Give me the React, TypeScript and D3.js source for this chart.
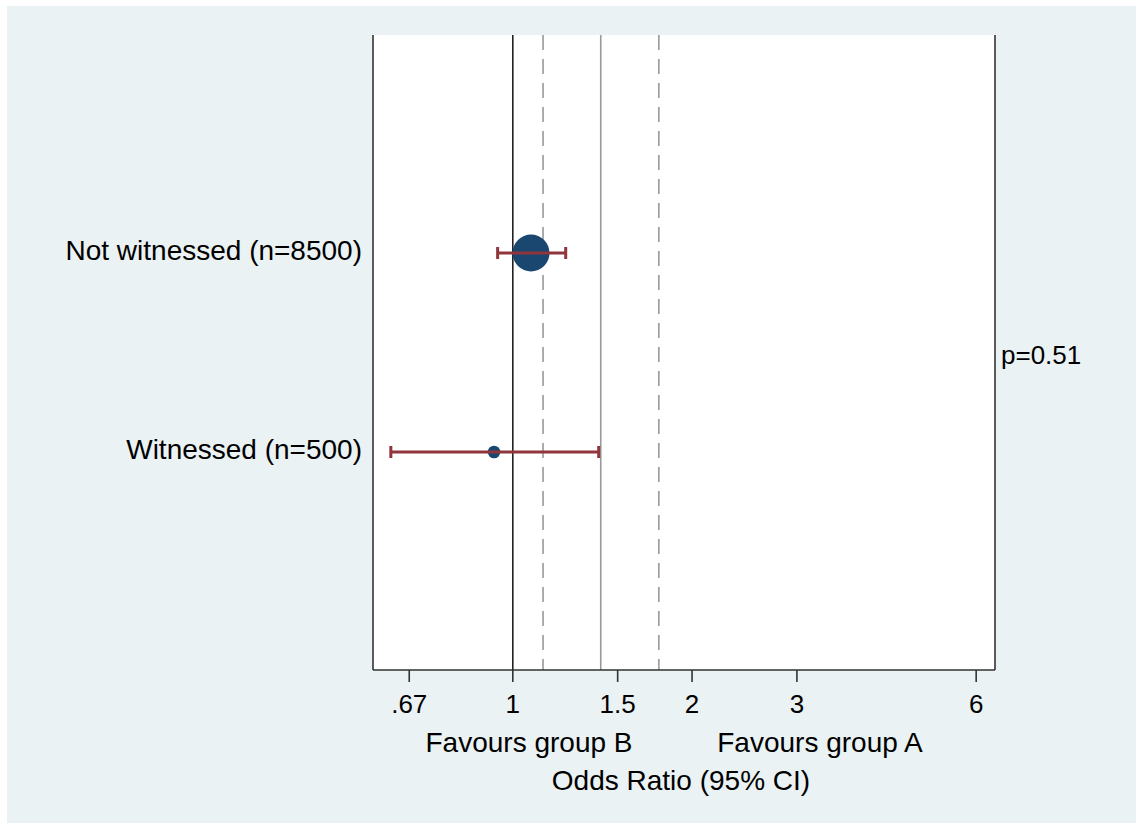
import React from "react";
import * as d3 from "d3";

// forest plot: odds ratios by subgroup
const groups = ["Not witnessed (n=8500)", "Witnessed (n=500)"];
const oddsRatio = [1.073, 0.93];
const ciLower = [0.943, 0.624];
const ciUpper = [1.227, 1.394];
const weights = [89.6, 10.4];

const tickValues = [0.67, 1, 1.5, 2, 3, 6];
const tickLabels = [".67", "1", "1.5", "2", "3", "6"];

const overallOR = 1.405;
const overallCI = [1.124, 1.759];
const pText = "p=0.51";

const W = 1136;
const H = 823;
const plot = { left: 373, right: 995, top: 35, bottom: 670 };
const bg = "#EAF2F3";
const navy = "#1A476F";
const maroon = "#90353B";
const font = "'Liberation Sans', Arial, sans-serif";

export default function App() {
  const x = d3.scaleLog().domain([0.5824, 6.453]).range([plot.left, plot.right]);
  const y = d3
    .scalePoint<string>()
    .domain(groups)
    .range([plot.top, plot.bottom])
    .padding(1.0955);
  const r = d3.scaleSqrt().domain([0, d3.max(weights) as number]).range([0, 18.5]);

  const rows = groups.map((g, i) => ({
    g,
    or: oddsRatio[i],
    lo: ciLower[i],
    hi: ciUpper[i],
    w: weights[i],
  }));

  const midX = (plot.left + plot.right) / 2;

  return (
    <svg
      width={W}
      height={H}
      style={{ position: "absolute", left: 0, top: 0, display: "block" }}
      fontFamily={font}
    >
      <rect x={0} y={0} width={W} height={H} fill="#fff" />
      <rect x={7} y={6} width={W - 7} height={H - 6} fill={bg} />
      <rect
        x={plot.left}
        y={plot.top}
        width={plot.right - plot.left}
        height={plot.bottom - plot.top}
        fill="#fff"
      />

      {/* reference lines */}
      <line x1={x(1)} x2={x(1)} y1={plot.top} y2={plot.bottom} stroke="#222" strokeWidth={1.6} />
      <line
        x1={x(overallOR)}
        x2={x(overallOR)}
        y1={plot.top}
        y2={plot.bottom}
        stroke="#999"
        strokeWidth={1.6}
      />
      {overallCI.map((v, i) => (
        <line
          key={i}
          x1={x(v)}
          x2={x(v)}
          y1={plot.top}
          y2={plot.bottom}
          stroke="#999"
          strokeWidth={1.6}
          strokeDasharray="15,9"
        />
      ))}

      {/* axis frame */}
      <line x1={plot.left} x2={plot.left} y1={plot.top} y2={plot.bottom} stroke="#333" strokeWidth={1.6} />
      <line x1={plot.right} x2={plot.right} y1={plot.top} y2={plot.bottom} stroke="#333" strokeWidth={1.6} />
      <line x1={plot.left} x2={plot.right} y1={plot.bottom} y2={plot.bottom} stroke="#333" strokeWidth={1.6} />

      {tickValues.map((t, i) => (
        <g key={t} transform={`translate(${x(t)},0)`}>
          <line y1={plot.bottom} y2={plot.bottom + 12} stroke="#333" strokeWidth={1.6} />
          <text y={713} textAnchor="middle" fontSize={26} fill="#000">
            {tickLabels[i]}
          </text>
        </g>
      ))}

      {/* estimates */}
      {rows.map((d) => {
        const cy = y(d.g) as number;
        return (
          <g key={d.g}>
            <circle cx={x(d.or)} cy={cy} r={r(d.w)} fill={navy} />
            <line x1={x(d.lo)} x2={x(d.hi)} y1={cy} y2={cy} stroke={maroon} strokeWidth={3.2} />
            <line x1={x(d.lo)} x2={x(d.lo)} y1={cy - 6} y2={cy + 6} stroke={maroon} strokeWidth={3} />
            <line x1={x(d.hi)} x2={x(d.hi)} y1={cy - 6} y2={cy + 6} stroke={maroon} strokeWidth={3} />
            <text
              x={362}
              y={cy - 3}
              dy="0.35em"
              textAnchor="end"
              fontSize={28}
              fill="#000"
            >
              {d.g}
            </text>
          </g>
        );
      })}

      <text x={1001} y={355} dy="0.35em" fontSize={26} fill="#000">
        {pText}
      </text>

      <text x={529} y={752} textAnchor="middle" fontSize={28} fill="#000">
        Favours group B
      </text>
      <text x={820} y={752} textAnchor="middle" fontSize={28} fill="#000">
        Favours group A
      </text>
      <text x={midX - 3} y={790} textAnchor="middle" fontSize={28} fill="#000">
        Odds Ratio (95% CI)
      </text>
    </svg>
  );
}
